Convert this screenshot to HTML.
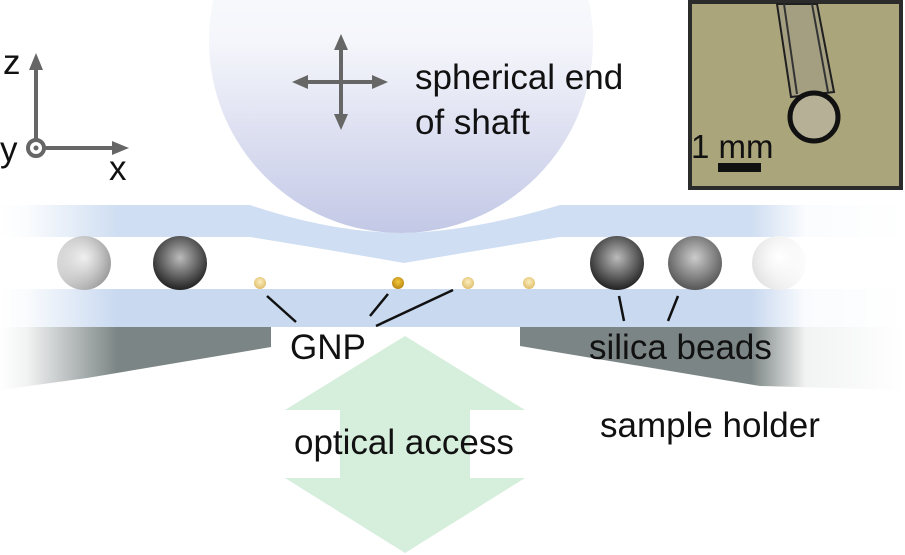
<!DOCTYPE html>
<html><head><meta charset="utf-8"><style>
html,body{margin:0;padding:0;background:#fff;}
svg{display:block;font-family:"Liberation Sans",Arial,sans-serif;}
</style></head><body>
<svg width="905" height="555" viewBox="0 0 905 555" xmlns="http://www.w3.org/2000/svg">
<defs>
<linearGradient id="disc" x1="0" y1="0" x2="0" y2="1">
<stop offset="0" stop-color="#ffffff"/><stop offset="0.5" stop-color="#f5f6fb"/><stop offset="1" stop-color="#c3c8e6"/>
</linearGradient>
<linearGradient id="fadeH" x1="0" y1="0" x2="1" y2="0">
<stop offset="0" stop-color="#fff" stop-opacity="1"/><stop offset="0.03" stop-color="#fff" stop-opacity="0.9"/><stop offset="0.13" stop-color="#fff" stop-opacity="0"/>
<stop offset="0.83" stop-color="#fff" stop-opacity="0"/><stop offset="0.89" stop-color="#fff" stop-opacity="0.9"/><stop offset="1" stop-color="#fff" stop-opacity="1"/>
</linearGradient>
<radialGradient id="bL" cx="0.5" cy="0.4" r="0.6"><stop offset="0" stop-color="#e8e8e8"/><stop offset="1" stop-color="#8a8a8a"/></radialGradient>
<radialGradient id="bD" cx="0.5" cy="0.4" r="0.6"><stop offset="0" stop-color="#bbb"/><stop offset="1" stop-color="#222"/></radialGradient>
<radialGradient id="bM" cx="0.5" cy="0.4" r="0.6"><stop offset="0" stop-color="#ccc"/><stop offset="1" stop-color="#555"/></radialGradient>
<radialGradient id="bW" cx="0.5" cy="0.4" r="0.6"><stop offset="0" stop-color="#fff"/><stop offset="1" stop-color="#ddd"/></radialGradient>
<radialGradient id="g1" cx="0.5" cy="0.4" r="0.6"><stop offset="0" stop-color="#fbeec0"/><stop offset="1" stop-color="#e0be6a"/></radialGradient>
<radialGradient id="g2" cx="0.5" cy="0.4" r="0.6"><stop offset="0" stop-color="#f4c940"/><stop offset="1" stop-color="#b78510"/></radialGradient>
</defs>
<circle cx="401" cy="41" r="192" fill="url(#disc)"/>
<path d="M0 205 L250 205 Q330 232 401 233 Q470 232 560 205 L905 205 L905 237 L560 237 Q480 250 404 263 Q330 250 250 237 L0 237 Z" fill="#cfdef2"/>
<rect x="0" y="289" width="905" height="38" fill="#c9d9f0"/>
<path d="M0 327 L271 327 L271 347 L87 378 L0 390 Z" fill="#7c8585"/>
<path d="M520 327 L905 327 L905 390 L760 386 L520 346 Z" fill="#7c8585"/>
<circle cx="84" cy="263" r="27" fill="url(#bL)"/>
<circle cx="180" cy="263" r="27" fill="url(#bD)"/>
<circle cx="617" cy="263" r="27" fill="url(#bD)"/>
<circle cx="695" cy="263" r="27" fill="url(#bM)"/>
<circle cx="779" cy="263" r="27" fill="url(#bW)"/>
<rect x="0" y="195" width="905" height="200" fill="url(#fadeH)"/>
<ellipse cx="260" cy="283" rx="6" ry="6" fill="url(#g1)"/>
<ellipse cx="398" cy="283" rx="6" ry="6" fill="url(#g2)"/>
<ellipse cx="468" cy="283" rx="6" ry="6" fill="url(#g1)"/>
<ellipse cx="529" cy="283" rx="6" ry="6" fill="url(#g1)"/>
<g stroke="#111" stroke-width="2.5">
<line x1="267" y1="296" x2="296" y2="322"/>
<line x1="388" y1="294" x2="370" y2="316"/>
<line x1="453" y1="290" x2="376" y2="326"/>
<line x1="619" y1="296" x2="624" y2="321"/>
<line x1="678" y1="296" x2="668" y2="321"/>
</g>
<path d="M405 336 L525 410 L470 410 L470 478 L525 478 L405 553 L285 478 L340 478 L340 410 L285 410 Z" fill="#d6eedc"/>
<g stroke="#666" stroke-width="4" fill="#666">
<line x1="36" y1="139" x2="36" y2="66"/>
<line x1="45" y1="148" x2="116" y2="148"/>
<line x1="341" y1="46" x2="341" y2="118"/>
<line x1="304" y1="82" x2="376" y2="82"/>
</g>
<g fill="#666">
<path d="M36 53 L29 70 L43 70 Z"/>
<path d="M129 148 L112 141 L112 155 Z"/>
<path d="M341 34 L334 50 L348 50 Z"/>
<path d="M341 130 L334 114 L348 114 Z"/>
<path d="M292 82 L308 75 L308 89 Z"/>
<path d="M388 82 L372 75 L372 89 Z"/>
</g>
<circle cx="36" cy="148" r="8" fill="#fff" stroke="#666" stroke-width="4"/>
<circle cx="36" cy="148" r="2.5" fill="#666"/>
<g font-size="35" fill="#111">
<text x="3" y="74">z</text>
<text x="0" y="161">y</text>
<text x="109" y="180">x</text>
<text x="415" y="89">spherical end</text>
<text x="415" y="134">of shaft</text>
<text x="290" y="359">GNP</text>
<text x="589" y="359">silica beads</text>
<text x="600" y="437">sample holder</text>
<text x="294" y="454">optical access</text>
</g>
<rect x="690" y="2" width="211" height="186" fill="#aba57c" stroke="#2b2b2b" stroke-width="4"/>
<path d="M777 4 L817 4 L834 92 L791 97 Z" fill="#a39f80" stroke="#1f1f1f" stroke-width="2"/>
<line x1="784" y1="4" x2="797" y2="94" stroke="#333" stroke-width="2"/>
<line x1="812" y1="4" x2="828" y2="92" stroke="#333" stroke-width="2"/>
<circle cx="814" cy="117" r="24" fill="#b5b096" stroke="#111" stroke-width="5"/>
<text x="691" y="158" font-size="33" fill="#111">1 mm</text>
<rect x="718" y="163" width="43" height="9" fill="#111"/>
</svg>
</body></html>
